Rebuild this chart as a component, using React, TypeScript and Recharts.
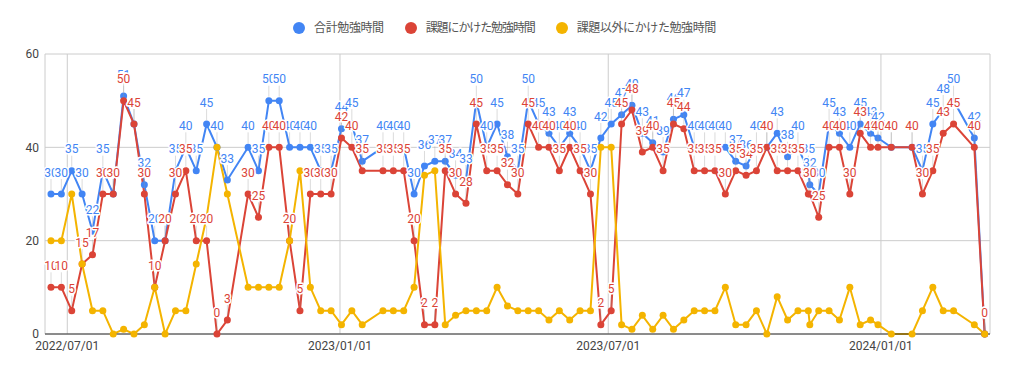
import React from 'react';
import { LineChart, Line, XAxis, YAxis, CartesianGrid } from 'recharts';

// weekly study log (hours)
const dates = [
  '2022-06-20', '2022-06-27', '2022-07-04', '2022-07-11', '2022-07-18', '2022-07-25', '2022-08-01', '2022-08-08',
  '2022-08-15', '2022-08-22', '2022-08-29', '2022-09-05', '2022-09-12', '2022-09-19', '2022-09-26', '2022-10-03',
  '2022-10-10', '2022-10-17', '2022-10-31', '2022-11-07', '2022-11-14', '2022-11-21', '2022-11-28', '2022-12-05',
  '2022-12-12', '2022-12-19', '2022-12-26', '2023-01-02', '2023-01-09', '2023-01-16', '2023-01-30', '2023-02-06',
  '2023-02-13', '2023-02-20', '2023-02-27', '2023-03-06', '2023-03-13', '2023-03-20', '2023-03-27', '2023-04-03',
  '2023-04-10', '2023-04-17', '2023-04-24', '2023-05-01', '2023-05-08', '2023-05-15', '2023-05-22', '2023-05-29',
  '2023-06-05', '2023-06-12', '2023-06-19', '2023-06-26', '2023-07-03', '2023-07-10', '2023-07-17', '2023-07-24',
  '2023-07-31', '2023-08-07', '2023-08-14', '2023-08-21', '2023-08-28', '2023-09-04', '2023-09-11', '2023-09-18',
  '2023-09-25', '2023-10-02', '2023-10-09', '2023-10-16', '2023-10-23', '2023-10-30', '2023-11-06', '2023-11-13',
  '2023-11-14', '2023-11-20', '2023-11-27', '2023-12-04', '2023-12-11', '2023-12-18', '2023-12-25', '2023-12-30',
  '2024-01-08', '2024-01-22', '2024-01-29', '2024-02-05', '2024-02-12', '2024-02-19', '2024-03-04', '2024-03-11',
];

const totalHours = [
  30, 30, 35, 30, 22, 35, 30, 51, 45, 32, 20, 20, 35, 40, 35, 45,
  40, 33, 40, 35, 50, 50, 40, 40, 40, 35, 35, 44, 45, 37, 40, 40,
  40, 30, 36, 37, 37, 34, 33, 50, 40, 45, 38, 35, 50, 45, 43, 40,
  43, 40, 35, 42, 45, 47, 49, 43, 41, 39, 46, 47, 40, 40, 40, 40,
  37, 36, 40, 40, 43, 38, 40, 35, 32, 30, 45, 43, 40, 45, 43, 42,
  40, 40, 35, 45, 48, 50, 42, 0,
];

const taskHours = [
  10, 10, 5, 15, 17, 30, 30, 50, 45, 30, 10, 20, 30, 35, 20, 20,
  0, 3, 30, 25, 40, 40, 20, 5, 30, 30, 30, 42, 40, 35, 35, 35,
  35, 20, 2, 2, 35, 30, 28, 45, 35, 35, 32, 30, 45, 40, 40, 35,
  40, 35, 30, 2, 5, 45, 48, 39, 40, 35, 45, 44, 35, 35, 35, 30,
  35, 34, 35, 40, 35, 35, 35, 30, 30, 25, 40, 40, 30, 43, 40, 40,
  40, 40, 30, 35, 43, 45, 40, 0,
];

const otherHours = [
  20, 20, 30, 15, 5, 5, 0, 1, 0, 2, 10, 0, 5, 5, 15, 25,
  40, 30, 10, 10, 10, 10, 20, 35, 10, 5, 5, 2, 5, 2, 5, 5,
  5, 10, 34, 35, 2, 4, 5, 5, 5, 10, 6, 5, 5, 5, 3, 5,
  3, 5, 5, 40, 40, 2, 1, 4, 1, 4, 1, 3, 5, 5, 5, 10,
  2, 2, 5, 0, 8, 3, 5, 5, 2, 5, 5, 3, 10, 2, 3, 2,
  0, 0, 5, 10, 5, 5, 2, 0,
];

const tickDates = ['2022-07-01', '2023-01-01', '2023-07-01', '2024-01-01'];
const yTicks = [0, 20, 40, 60];

const seriesNames = ['合計勉強時間', '課題にかけた勉強時間', '課題以外にかけた勉強時間'];
const BLUE = '#4285F4';
const RED = '#DB4437';
const YELLOW = '#F4B400';
const colors = [BLUE, RED, YELLOW];

const toTime = (d: string) => Date.parse(d + 'T00:00:00Z');

const data = dates.map((d, i) => ({
  t: toTime(d),
  total: totalHours[i],
  task: taskHours[i],
  other: otherHours[i],
}));

const xDomain = [toTime('2022-06-15') + 23 * 3600 * 1000, toTime('2024-03-14') + 14 * 3600 * 1000];

const fmtDate = (v: number) => {
  const d = new Date(v);
  const mm = String(d.getUTCMonth() + 1).padStart(2, '0');
  const dd = String(d.getUTCDate()).padStart(2, '0');
  return `${d.getUTCFullYear()}/${mm}/${dd}`;
};

const FONT = 'Roboto, "Noto Sans CJK JP", sans-serif';

// annotation: small stem + value text with white halo
const makeLabel = (color: string) => (props: any) => {
  const { x, y, value, index } = props;
  if (x == null || y == null) return null;
  return (
    <g key={`lbl-${color}-${index}`}>
      <line x1={x} x2={x} y1={y - 4} y2={y - 15} stroke="#999" strokeOpacity={0.35} />
      <text
        x={x}
        y={y - 17.5}
        textAnchor="middle"
        fill={color}
        fontSize={12}
        fontFamily={FONT}
        stroke="#fff"
        strokeWidth={3}
        strokeLinejoin="round"
        paintOrder="stroke"
      >
        {value}
      </text>
    </g>
  );
};

const App = () => {
  return (
    <div style={{ position: 'absolute', left: 0, top: 0, width: 1009, height: 373, fontFamily: FONT }}>
      <div
        style={{
          position: 'absolute',
          top: 21,
          left: 0,
          width: 1009,
          height: 14,
          display: 'flex',
          justifyContent: 'center',
          alignItems: 'center',
          gap: 21,
          fontSize: 12,
          color: '#555',
        }}
      >
        {seriesNames.map((name, i) => (
          <div key={name} style={{ display: 'flex', alignItems: 'center', gap: 9 }}>
            <span style={{ width: 12, height: 12, borderRadius: 6, background: colors[i], display: 'inline-block' }} />
            <span style={{ lineHeight: '14px', letterSpacing: i === 1 ? -1.1 : -0.4 }}>{name}</span>
          </div>
        ))}
      </div>
      <LineChart width={1009} height={373} data={data} margin={{ top: 54, right: 19, bottom: 9, left: 0 }}>
        <CartesianGrid stroke="#ccc" />
        <XAxis
          dataKey="t"
          type="number"
          domain={xDomain}
          allowDataOverflow
          ticks={tickDates.map(toTime)}
          tickFormatter={fmtDate}
          height={30}
          tickLine={false}
          tickSize={0}
          tickMargin={7}
          axisLine={{ stroke: '#333' }}
          tick={{ fill: '#444', fontSize: 12, fontFamily: FONT }}
        />
        <YAxis
          domain={[0, 60]}
          ticks={yTicks}
          width={45}
          axisLine={false}
          tickLine={false}
          tickSize={0}
          tickMargin={6}
          tick={{ fill: '#444', fontSize: 12, fontFamily: FONT }}
        />
        <Line dataKey="total" stroke={BLUE} strokeWidth={2} dot={{ r: 3.5, fill: BLUE, stroke: BLUE, strokeWidth: 0 }} isAnimationActive={false} />
        <Line dataKey="task" stroke={RED} strokeWidth={2} dot={{ r: 3.5, fill: RED, stroke: RED, strokeWidth: 0 }} isAnimationActive={false} />
        <Line dataKey="other" stroke={YELLOW} strokeWidth={2} dot={{ r: 3.5, fill: YELLOW, stroke: YELLOW, strokeWidth: 0 }} isAnimationActive={false} />
        {/* labels drawn on top of every line */}
        <Line dataKey="total" stroke="none" dot={false} activeDot={false} label={makeLabel(BLUE)} isAnimationActive={false} />
        <Line dataKey="task" stroke="none" dot={false} activeDot={false} label={makeLabel(RED)} isAnimationActive={false} />
      </LineChart>
    </div>
  );
};

export default App;
